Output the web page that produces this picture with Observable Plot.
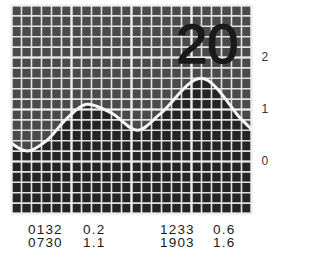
<!DOCTYPE html>
<html><head><meta charset="utf-8">
<script src="https://cdn.jsdelivr.net/npm/d3@7"></script>
<script src="https://cdn.jsdelivr.net/npm/@observablehq/plot@0.6"></script>
<style>
html,body{margin:0;padding:0;background:#fff;}
#wrap{position:relative;width:328px;height:255px;overflow:hidden;font-family:"Liberation Sans",Arial,sans-serif;}
.t{position:absolute;font-size:13.5px;letter-spacing:1.2px;color:#1a1a1a;line-height:13px;white-space:pre;}
</style></head>
<body><div id="wrap"></div>
<script>
// curve readings: hour of day, height (m)
const hours   = [0, 1.6, 3.5, 5.5, 7.5, 10, 12.6, 14.9, 19, 22.9, 24];
const heights = [0.35, 0.2, 0.4, 0.82, 1.1, 0.93, 0.6, 0.92, 1.6, 0.83, 0.62];
const dayLabel = "20";
const yTicks = [0, 1, 2];
const times1 = ["0132", "0730"];
const levels1 = ["0.2", "1.1"];
const times2 = ["1233", "1903"];
const levels2 = ["0.6", "1.6"];

const tide = hours.map((h, i) => ({h, v: heights[i]}));
const minorX = d3.range(0, 25, 1);
const majorX = [0, 6, 12, 18, 24];
const minorY = d3.range(-1, 3.001, 0.2);
const majorY = [-1, 0, 1, 2, 3];

const chart = Plot.plot({
  width: 328, height: 218,
  marginLeft: 11, marginRight: 77, marginTop: 5, marginBottom: 5,
  x: {domain: [0, 24], axis: null},
  y: {domain: [-1, 3], axis: null},
  style: {fontFamily: "Liberation Sans, Arial, sans-serif", background: "transparent"},
  marks: [
    Plot.frame({fill: "#4a4a4a", stroke: null}),
    Plot.areaY(tide, {x: "h", y1: -1, y2: "v", fill: "#242424", curve: "catmull-rom"}),
    Plot.ruleX(minorX, {stroke: "#e2e2e2", strokeWidth: 1.6}),
    Plot.ruleY(minorY, {stroke: "#e2e2e2", strokeWidth: 1.6}),
    Plot.ruleX(majorX, {stroke: "#eeeeee", strokeWidth: 2.2}),
    Plot.ruleY(majorY, {stroke: "#eeeeee", strokeWidth: 2.2}),
    Plot.lineY(tide, {x: "h", y: "v", stroke: "#f6f6f6", strokeWidth: 3, curve: "catmull-rom"}),
    Plot.text([dayLabel], {frameAnchor: "top-right", text: d => d, dx: -13, dy: 18, lineAnchor: "top", textAnchor: "end", fontSize: 56, fill: "#1a1a1a", stroke: "#1a1a1a", strokeWidth: 1.6}),
    Plot.axisY(yTicks, {anchor: "right", label: null, tickSize: 0, tickPadding: 10, textAnchor: "start", fontSize: 12, fill: "#333", tickFormat: d => d})
  ]
});
const wrap = document.getElementById("wrap");
wrap.appendChild(chart);
function addCol(arr, left) {
  const d = document.createElement("div");
  d.className = "t";
  d.textContent = arr.join("\n");
  d.style.left = left + "px";
  d.style.top = "223px";
  wrap.appendChild(d);
}
addCol(times1, 28); addCol(levels1, 83); addCol(times2, 160); addCol(levels2, 213);
</script></body></html>
